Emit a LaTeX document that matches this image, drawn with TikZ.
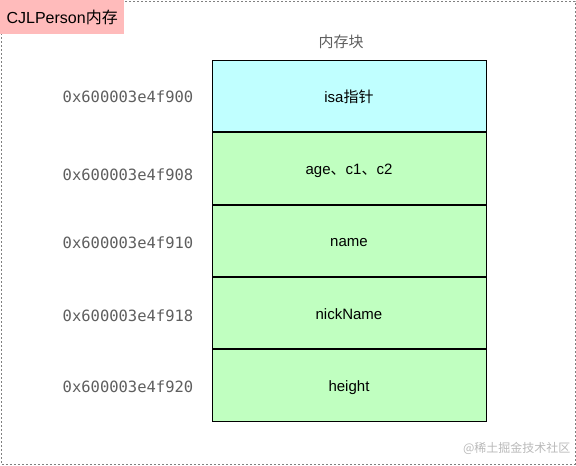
\documentclass[tikz,border=0pt]{standalone}
\usepackage{fontspec}
\setmainfont{Liberation Sans}
\setmonofont{DejaVu Sans Mono}
\newfontfamily\cjk{Noto Sans CJK SC}
\usetikzlibrary{positioning}

\definecolor{isacyan}{HTML}{C0FFFF}
\definecolor{ivargreen}{HTML}{C0FFC0}
\definecolor{titlepink}{HTML}{FFBBBB}
\definecolor{addrgray}{HTML}{5E5E5E}

\begin{document}
\begin{tikzpicture}[x=1pt,y=-1pt,
    cell/.style={draw,line width=1pt,minimum width=274pt,
      minimum height=71.4pt,inner sep=0pt,text height=13pt,
      text depth=1pt,font=\fontsize{15}{17}\selectfont},
    addr/.style={font=\ttfamily\fontsize{15.5}{18}\selectfont,
      text=addrgray}]
  \useasboundingbox (0,0) rectangle (576,466);
  \draw[gray,line width=0.8pt,dash pattern=on 2pt off 2pt]
    (1,1) rectangle (575,464);

  \node[fill=titlepink,anchor=north west,minimum width=124pt,
    minimum height=34pt,inner sep=0pt,
    font=\fontsize{16}{18}\selectfont] (title) at (0,0)
    {CJLPerson{\cjk 内存}};

  \node[cell,fill=isacyan] (isa) at (349,96) {isa{\cjk 指针}};
  \node[cell,fill=ivargreen,below=0pt of isa] (ivars)
    {age{\cjk 、}c1{\cjk 、}c2};
  \node[cell,fill=ivargreen,below=0pt of ivars] (name) {name};
  \node[cell,fill=ivargreen,below=0pt of name] (nick) {nickName};
  \node[cell,fill=ivargreen,below=0pt of nick] (height) {height};

  \node[text=addrgray,font=\cjk\fontsize{15}{17}\selectfont]
    (block) at (341,42) {内存块};

  \node[addr] (a900) at (128,97) {0x600003e4f900};
  \node[addr] (a908) at (128,175) {0x600003e4f908};
  \node[addr] (a910) at (128,243) {0x600003e4f910};
  \node[addr] (a918) at (128,316) {0x600003e4f918};
  \node[addr] (a920) at (128,387) {0x600003e4f920};

  \node[text=gray!55,anchor=east,font=\cjk\fontsize{12}{14}\selectfont]
    (mark) at (574,448) {@稀土掘金技术社区};
\end{tikzpicture}
\end{document}
